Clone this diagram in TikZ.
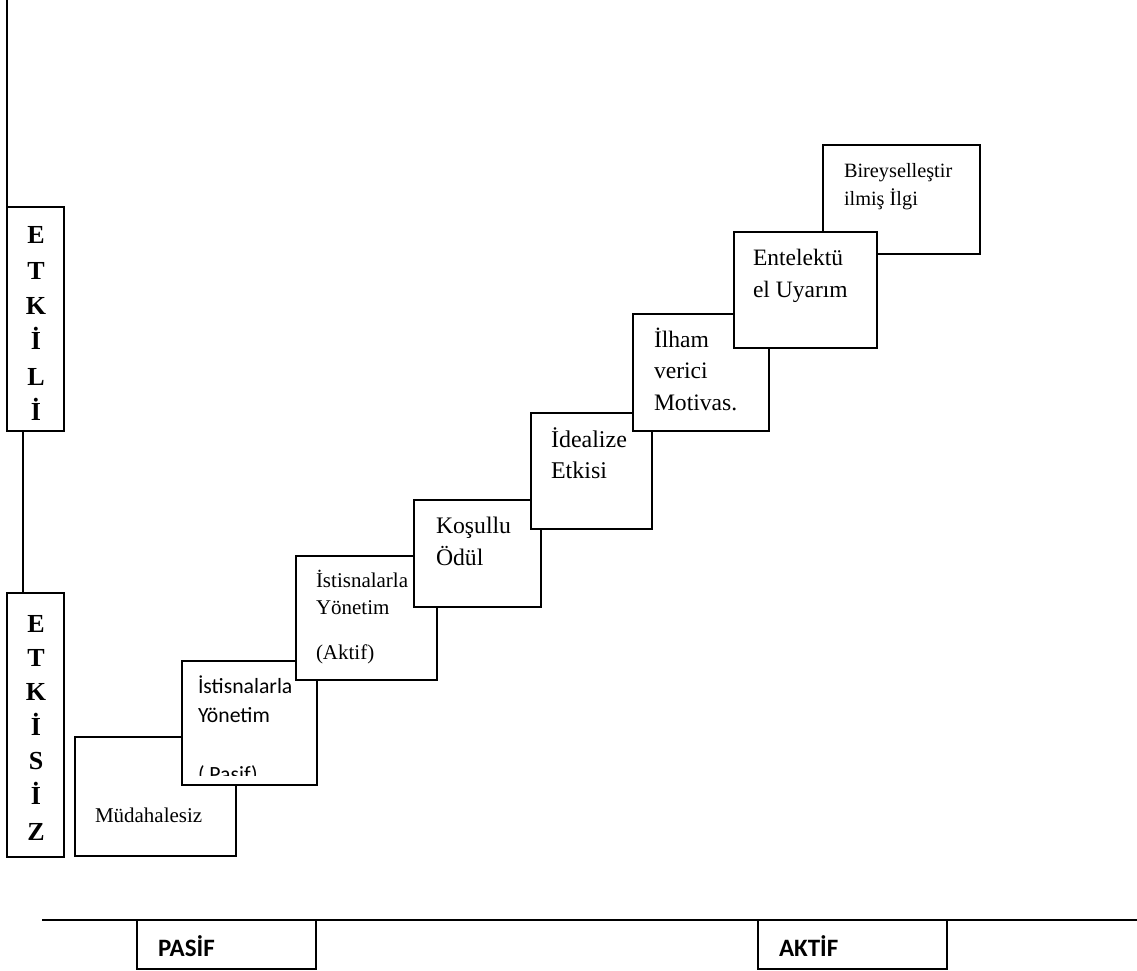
\documentclass[tikz,border=0pt]{standalone}
\usepackage{fontspec}
\setmainfont{Liberation Serif}
\newfontfamily\calibri{Carlito}
\newcommand{\fsz}[1]{\fontsize{#1}{#1}\selectfont}
\tikzset{
  stair/.style={draw, line width=2pt, fill=white, inner sep=0pt, outer sep=0pt, anchor=north west},
  frame/.style={draw, line width=2pt, inner sep=0pt, outer sep=0pt, anchor=north west},
  txt/.style={anchor=base west, inner sep=0pt, outer sep=0pt},
  letter/.style={anchor=base, inner sep=0pt, outer sep=0pt, font=\bfseries\fsz{26}},
  axis/.style={line width=2pt},
  vaxis/.style={line width=2.4pt},
  tag/.style={anchor=base west, inner sep=0pt, outer sep=0pt, font=\calibri\bfseries\fsz{25}},
}
\begin{document}
\begin{tikzpicture}[x=1pt, y=-1pt]
\useasboundingbox (0,0) rectangle (1137,970);

% vertical axis: labels and connecting lines
\coordinate (vtop) at (7,0);
\node[frame, minimum width=57pt, minimum height=224pt] (etkili) at (7,207) {};
\node[frame, minimum width=57pt, minimum height=264pt] (etkisiz) at (7,593) {};
\draw[vaxis] (etkili.north west) -- (vtop);
\draw[axis] ([xshift=-12.5pt]etkili.south) -- ([xshift=-12.5pt]etkisiz.north);

\node[letter] (l1) at (36,243) {E};
\node[letter] (l2) at (36,279) {T};
\node[letter] (l3) at (36,314) {K};
\node[letter] (l4) at (36,349) {İ};
\node[letter] (l5) at (36,385) {L};
\node[letter] (l6) at (36,420) {İ};

\node[letter] (s1) at (36,632) {E};
\node[letter] (s2) at (36,666) {T};
\node[letter] (s3) at (36,700) {K};
\node[letter] (s4) at (36,735) {İ};
\node[letter] (s5) at (36,769) {S};
\node[letter] (s6) at (36,804) {İ};
\node[letter] (s7) at (36,840) {Z};

% horizontal axis with its two labels
\coordinate (hl) at (42,920);
\coordinate (hr) at (1137,920);
\draw[axis] (hl) -- (hr);
\node[frame, minimum width=179pt, minimum height=49pt] (pasif) at (137,920) {};
\node[frame, minimum width=189pt, minimum height=49pt] (aktif) at (758,920) {};
\node[tag] (pasift) at (158,956) {PASİF};
\node[tag] (aktift) at (779,956) {AKTİF};

% staircase of leadership styles
\node[stair, minimum width=161pt, minimum height=119pt] (mud) at (75,737) {};
\node[txt, font=\fsz{21}] (mudt) at (95,822) {Müdahalesiz};

\node[stair, minimum width=135pt, minimum height=124pt] (ip) at (182,661) {};
\begin{scope}
  \clip (182,661) rectangle (317,775);
  \node[txt, font=\calibri\fsz{21.7}] (ip1) at (198,693) {İstisnalarla};
  \node[txt, font=\calibri\fsz{21.7}] (ip2) at (198,722) {Yönetim};
  \node[txt, font=\calibri\fsz{21.7}] (ip3) at (198,781) {( Pasif)};
\end{scope}

\node[stair, minimum width=141pt, minimum height=124pt] (ia) at (296,556) {};
\node[txt, font=\fsz{21}] (ia1) at (316,587) {İstisnalarla};
\node[txt, font=\fsz{21}] (ia2) at (316,614) {Yönetim};
\node[txt, font=\fsz{21}] (ia3) at (316,659) {(Aktif)};

\node[stair, minimum width=127pt, minimum height=107pt] (ko) at (414,500) {};
\node[txt, font=\fsz{23.7}] (ko1) at (436,533) {Koşullu};
\node[txt, font=\fsz{23.7}] (ko2) at (436,565) {Ödül};

\node[stair, minimum width=121pt, minimum height=116pt] (id) at (531,413) {};
\node[txt, font=\fsz{24}] (id1) at (551,447) {İdealize};
\node[txt, font=\fsz{24}] (id2) at (551,478) {Etkisi};

\node[stair, minimum width=136pt, minimum height=117pt] (il) at (633,314) {};
\node[txt, font=\fsz{23.6}] (il1) at (654,347) {İlham};
\node[txt, font=\fsz{23.6}] (il2) at (654,378) {verici};
\node[txt, font=\fsz{23.6}] (il3) at (654,410) {Motivas.};

\node[stair, minimum width=157pt, minimum height=109pt] (bi) at (823,145) {};
\node[txt, font=\fsz{20.3}] (bi1) at (844,177) {Bireyselleştir};
\node[txt, font=\fsz{20.3}] (bi2) at (844,205) {ilmiş İlgi};

\node[stair, minimum width=143pt, minimum height=116pt] (en) at (734,232) {};
\node[txt, font=\fsz{23.5}] (en1) at (753,265) {Entelektü};
\node[txt, font=\fsz{23.5}] (en2) at (753,297) {el Uyarım};

\end{tikzpicture}
\end{document}
